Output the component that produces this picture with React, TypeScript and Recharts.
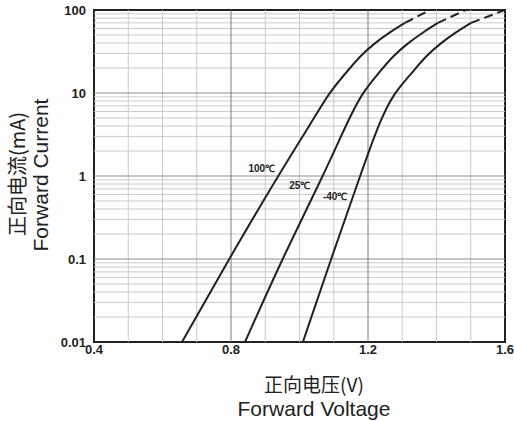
import React from "react";
import {
  LineChart,
  Line,
  XAxis,
  YAxis,
  ReferenceLine,
  ReferenceArea,
  ReferenceDot,
} from "recharts";

// forward voltage (V) vs forward current (mA)
const curve100 = [
  { v: 0.657, i: 0.01 },
  { v: 0.794, i: 0.1 },
  { v: 0.937, i: 1 },
  { v: 1.039, i: 4.7 },
  { v: 1.086, i: 10 },
  { v: 1.133, i: 17 },
  { v: 1.177, i: 28 },
  { v: 1.22, i: 40 },
  { v: 1.264, i: 54 },
  { v: 1.308, i: 70 },
];
const dash100 = [
  { v: 1.308, i: 70 },
  { v: 1.381, i: 100 },
];

const curve25 = [
  { v: 0.841, i: 0.01 },
  { v: 0.949, i: 0.1 },
  { v: 1.069, i: 1 },
  { v: 1.142, i: 4.7 },
  { v: 1.183, i: 10 },
  { v: 1.229, i: 17 },
  { v: 1.273, i: 28 },
  { v: 1.317, i: 40 },
  { v: 1.361, i: 54 },
  { v: 1.404, i: 70 },
];
const dash25 = [
  { v: 1.404, i: 70 },
  { v: 1.486, i: 100 },
];

const curveMinus40 = [
  { v: 1.01, i: 0.01 },
  { v: 1.092, i: 0.1 },
  { v: 1.177, i: 1 },
  { v: 1.235, i: 4.7 },
  { v: 1.276, i: 10 },
  { v: 1.326, i: 17 },
  { v: 1.369, i: 28 },
  { v: 1.413, i: 40 },
  { v: 1.457, i: 54 },
  { v: 1.501, i: 70 },
];
const dashMinus40 = [
  { v: 1.501, i: 70 },
  { v: 1.6, i: 100 },
];

const curveLabels = [
  { v: 0.89, i: 1.25, text: "100℃" },
  { v: 1.001, i: 0.78, text: "25℃" },
  { v: 1.104, i: 0.56, text: "-40℃" },
];

const xTicks = [0.4, 0.8, 1.2, 1.6];
const yTicks = [0.01, 0.1, 1, 10, 100];

const xMinorGrid = [0.5, 0.6, 0.7, 0.9, 1.0, 1.1, 1.3, 1.4, 1.5];
const xMajorGrid = [0.8, 1.2];
const yMinorGrid = [
  0.02, 0.03, 0.04, 0.05, 0.06, 0.07, 0.08, 0.09,
  0.2, 0.3, 0.4, 0.5, 0.6, 0.7, 0.8, 0.9,
  2, 3, 4, 5, 6, 7, 8, 9,
  20, 30, 40, 50, 60, 70, 80, 90,
];
const yMajorGrid = [0.1, 1, 10];

const tickStyle = {
  fontFamily: "'Liberation Sans', Arial, sans-serif",
  fontWeight: 700,
  fontSize: 13,
  fill: "#222",
};

const cjkFont = "'Noto Sans CJK SC', sans-serif";
const latinFont = "'Liberation Sans', Arial, sans-serif";

const lineBox: React.CSSProperties = {
  position: "absolute",
  width: 240,
  height: 24,
  lineHeight: "24px",
  textAlign: "center",
  color: "#222",
  whiteSpace: "nowrap",
};

export default function App() {
  return (
    <div style={{ position: "relative", width: 514, height: 421, background: "#fff" }}>
      <style>{"body{margin:0}"}</style>
      <LineChart
        width={514}
        height={421}
        margin={{ top: 10, right: 9, bottom: 49, left: 0 }}
      >
        <XAxis
          type="number"
          dataKey="v"
          domain={[0.4, 1.6]}
          ticks={xTicks}
          allowDataOverflow
          axisLine={false}
          tickLine={false}
          tickSize={0}
          tickMargin={3}
          height={30}
          tick={tickStyle}
          tickFormatter={(t: number) => t.toFixed(1)}
        />
        <YAxis
          type="number"
          dataKey="i"
          scale="log"
          domain={[0.01, 100]}
          ticks={yTicks}
          allowDataOverflow
          axisLine={false}
          tickLine={false}
          tickSize={0}
          tickMargin={8}
          width={94}
          tick={tickStyle}
        />
        {yMinorGrid.map((y) => (
          <ReferenceLine key={"hy" + y} y={y} stroke="#cacaca" strokeWidth={1} />
        ))}
        {xMinorGrid.map((x) => (
          <ReferenceLine key={"vx" + x} x={x} stroke="#cacaca" strokeWidth={1} />
        ))}
        {yMajorGrid.map((y) => (
          <ReferenceLine key={"HY" + y} y={y} stroke="#8c8c8c" strokeWidth={1} />
        ))}
        {xMajorGrid.map((x) => (
          <ReferenceLine key={"VX" + x} x={x} stroke="#7a7a7a" strokeWidth={1} />
        ))}
        <ReferenceArea
          x1={0.4}
          x2={1.6}
          y1={0.01}
          y2={100}
          fill="none"
          fillOpacity={0}
          stroke="#222"
          strokeWidth={2}
        />
        <Line data={curve100} dataKey="i" type="basis" stroke="#222" strokeWidth={2} dot={false} isAnimationActive={false} />
        <Line data={dash100} dataKey="i" type="linear" stroke="#222" strokeWidth={2} strokeDasharray="9 5" dot={false} isAnimationActive={false} />
        <Line data={curve25} dataKey="i" type="basis" stroke="#222" strokeWidth={2} dot={false} isAnimationActive={false} />
        <Line data={dash25} dataKey="i" type="linear" stroke="#222" strokeWidth={2} strokeDasharray="9 5" dot={false} isAnimationActive={false} />
        <Line data={curveMinus40} dataKey="i" type="basis" stroke="#222" strokeWidth={2} dot={false} isAnimationActive={false} />
        <Line data={dashMinus40} dataKey="i" type="linear" stroke="#222" strokeWidth={2} strokeDasharray="9 5" dot={false} isAnimationActive={false} />
        {curveLabels.map((c) => (
          <ReferenceDot
            key={c.text}
            x={c.v}
            y={c.i}
            r={0}
            fill="none"
            stroke="none"
            label={{
              value: c.text,
              position: "center",
              style: {
                fontFamily: "'Liberation Sans', Arial, sans-serif",
                fontWeight: 700,
                fontSize: 10,
                fill: "#222",
              },
            }}
          />
        ))}
      </LineChart>

      {/* y axis title, two rotated lines */}
      <div
        style={{
          ...lineBox,
          left: 17 - 120,
          top: 174 - 12,
          transform: "rotate(-90deg)",
          fontFamily: cjkFont,
          fontSize: 20,
        }}
      >
        正向电流(mA)
      </div>
      <div
        style={{
          ...lineBox,
          left: 41 - 120,
          top: 175 - 12,
          transform: "rotate(-90deg)",
          fontFamily: latinFont,
          fontSize: 21,
        }}
      >
        Forward Current
      </div>

      {/* x axis title */}
      <div
        style={{
          ...lineBox,
          left: 314 - 120,
          top: 384 - 12,
          fontFamily: cjkFont,
          fontSize: 19,
        }}
      >
        正向电压(V)
      </div>
      <div
        style={{
          ...lineBox,
          left: 314 - 120,
          top: 409 - 12,
          fontFamily: latinFont,
          fontSize: 21,
        }}
      >
        Forward Voltage
      </div>
    </div>
  );
}
